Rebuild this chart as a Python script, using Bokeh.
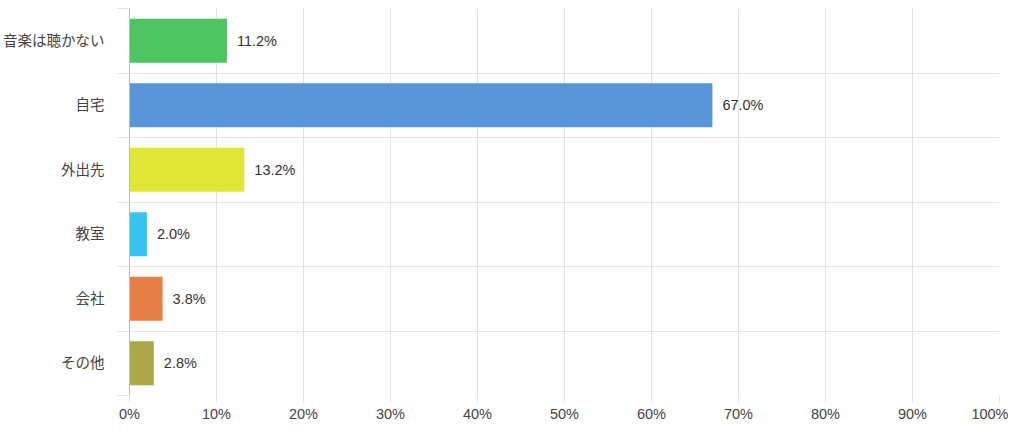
from bokeh.plotting import figure
from bokeh.models import ColumnDataSource, Range1d, FixedTicker, CustomJSTickFormatter
from bokeh.core.properties import value
from bokeh.embed import file_html
from bokeh.resources import INLINE

categories = ["音楽は聴かない", "自宅", "外出先", "教室", "会社", "その他"]
values = [11.2, 67.0, 13.2, 2.0, 3.8, 2.8]
colors = ["#4fc463", "#5b95d9", "#e0e636", "#36c4ee", "#e67f45", "#a9a94a"]
x_ticks = [0, 10, 20, 30, 40, 50, 60, 70, 80, 90, 100]

FONT = "Liberation Sans, 'Noto Sans CJK JP', sans-serif"

n = len(categories)
centers = [i + 0.5 for i in range(n)]
bounds = list(range(n + 1))

src = ColumnDataSource(dict(
    y=centers, v=values, c=colors,
    lab=[f"{v:.1f}%" for v in values],
))

p = figure(width=1008, height=424, output_backend="svg", toolbar_location=None,
           x_range=Range1d(0, 100), y_range=Range1d(n, 0),
           min_border_left=127, min_border_right=9, min_border_top=8, min_border_bottom=26)
p.outline_line_color = None

p.hbar(y="y", right="v", left=0, height=0.68, fill_color="c", line_color=None, source=src)
p.text(x="v", y="y", text="lab", x_offset=10, text_baseline="middle", text_align="left",
       text_font=value(FONT), text_font_size="14.5px", text_color="#333333", source=src)

# y axis
p.yaxis.ticker = FixedTicker(ticks=centers, minor_ticks=bounds)
p.yaxis.major_label_overrides = {c: categories[i] for i, c in enumerate(centers)}
p.yaxis.major_tick_out = 0
p.yaxis.major_tick_in = 0
p.yaxis.minor_tick_out = 12
p.yaxis.minor_tick_in = 0
p.yaxis.minor_tick_line_color = "#e3e3e3"
p.yaxis.axis_line_color = "#bdbdbd"
p.yaxis.major_label_standoff = 13
p.yaxis.major_label_text_font = FONT
p.yaxis.major_label_text_font_size = "14.5px"
p.yaxis.major_label_text_color = "#444444"

p.ygrid.ticker = FixedTicker(ticks=bounds)
p.ygrid.grid_line_color = "#e3e3e3"

# x axis
p.xaxis.ticker = FixedTicker(ticks=x_ticks)
p.xaxis.formatter = CustomJSTickFormatter(code="return tick + '%';")
p.xaxis.axis_line_color = None
p.xaxis.major_tick_out = 7
p.xaxis.major_tick_in = 0
p.xaxis.major_tick_line_color = "#e3e3e3"
p.xaxis.minor_tick_line_color = None
p.xaxis.major_label_standoff = 3
p.xaxis.major_label_text_font = FONT
p.xaxis.major_label_text_font_size = "14.5px"
p.xaxis.major_label_text_color = "#444444"
p.xgrid.ticker = FixedTicker(ticks=x_ticks)
p.xgrid.grid_line_color = "#e3e3e3"

open("out.html", "w").write(file_html(p, INLINE))
